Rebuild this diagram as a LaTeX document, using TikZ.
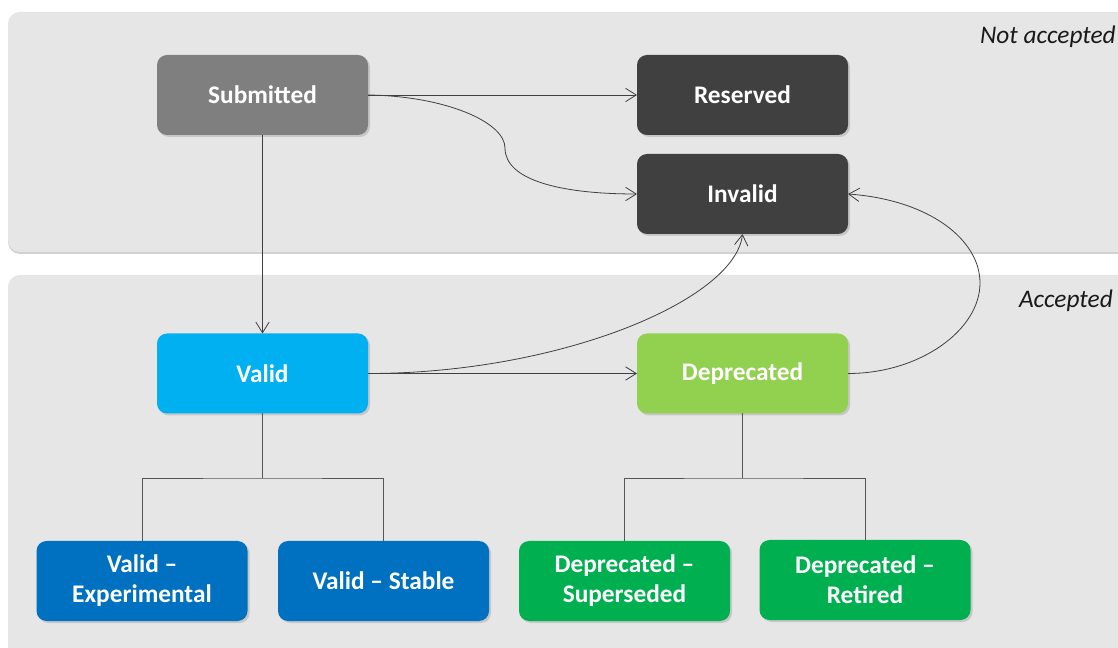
\documentclass[tikz,border=0pt]{standalone}
\usepackage{fontspec}
\setmainfont{Carlito}
\usetikzlibrary{arrows.meta,shadows}
\definecolor{panelbg}{HTML}{E6E6E6}
\definecolor{cSub}{HTML}{7F7F7F}
\definecolor{cDark}{HTML}{404040}
\definecolor{cValid}{HTML}{00B0F0}
\definecolor{cDep}{HTML}{92D050}
\definecolor{cVSub}{HTML}{0070C0}
\definecolor{cDSub}{HTML}{00B050}
\definecolor{cLine}{HTML}{404040}
\definecolor{cTree}{HTML}{555555}
\definecolor{cLabel}{HTML}{1A1A1A}
\begin{document}
\begin{tikzpicture}[x=0.75pt,y=-0.75pt,
  panel/.style={fill=panelbg, rounded corners=9pt,
    drop shadow={shadow xshift=0pt, shadow yshift=-1.5pt, opacity=0.35}},
  state/.style={rounded corners=7.5pt, minimum width=158.25pt, minimum height=60pt,
    inner sep=0pt, outer sep=0pt, text=white, align=center,
    font=\bfseries\fontsize{19}{22.5}\selectfont,
    drop shadow={shadow xshift=1.5pt, shadow yshift=-1.5pt, opacity=0.3}},
  zone/.style={anchor=east, inner sep=0pt, text=cLabel,
    font=\itshape\fontsize{19}{22.5}\selectfont},
  flow/.style={draw=cLine, line width=0.6pt, -{Straight Barb[length=8pt,width=10pt,line width=0.6pt]}},
  tree/.style={draw=cTree, line width=0.6pt}
]
\clip (0,0) rectangle (1118,648);
\useasboundingbox (0,0) rectangle (1118,648);
\fill[white] (0,0) rectangle (1118,648);
% panels
\path[panel] (8,12) rectangle (1140,252);
\path[panel] (8,275) rectangle (1140,680);
\node[zone] (nacc) at (1116,37) {Not accepted};
\node[zone] (acc) at (1113,301) {Accepted};
% states
\node[state, fill=cSub]  (sub) at (262.5,95) {Submitted};
\node[state, fill=cDark] (res) at (742.5,95) {Reserved};
\node[state, fill=cDark] (inv) at (742.5,194) {Invalid};
\node[state, fill=cValid] (val) at (262.5,373.5) {Valid};
\node[state, fill=cDep]  (dep) at (742.5,373.5) {Deprecated};
\node[state, fill=cVSub] (vexp) at (142,581) {Valid –\\Experimental};
\node[state, fill=cVSub] (vsta) at (383.5,581) {Valid – Stable};
\node[state, fill=cDSub] (dsup) at (624.5,581) {Deprecated –\\Superseded};
\node[state, fill=cDSub] (dret) at (865,580) {Deprecated –\\Retired};
% transitions
\draw[flow] (sub.east) -- (res.west);
\draw[flow] (sub.east) .. controls (445,96) and (505,122) .. (505,148)
  .. controls (505,180) and (560,194) .. (inv.west);
\draw[flow] (sub.south) -- (val.north);
\draw[flow] (val.east) -- (dep.west);
\draw[flow] (val.east) .. controls (560,373.5) and (735,300) .. (inv.south);
\draw[flow] (dep.east) .. controls (920,373.5) and (980,330) .. (980,283)
  .. controls (980,240) and (930,200) .. (inv.east);
% tree links
\coordinate (vj) at (262.5,478);
\coordinate (dj) at (742.5,478);
\draw[tree] (val.south) -- (vj);
\draw[tree] (vexp.north) |- (vj) -| (vsta.north);
\draw[tree] (dep.south) -- (dj);
\draw[tree] (dsup.north) |- (dj) -| (dret.north);
\end{tikzpicture}
\end{document}
